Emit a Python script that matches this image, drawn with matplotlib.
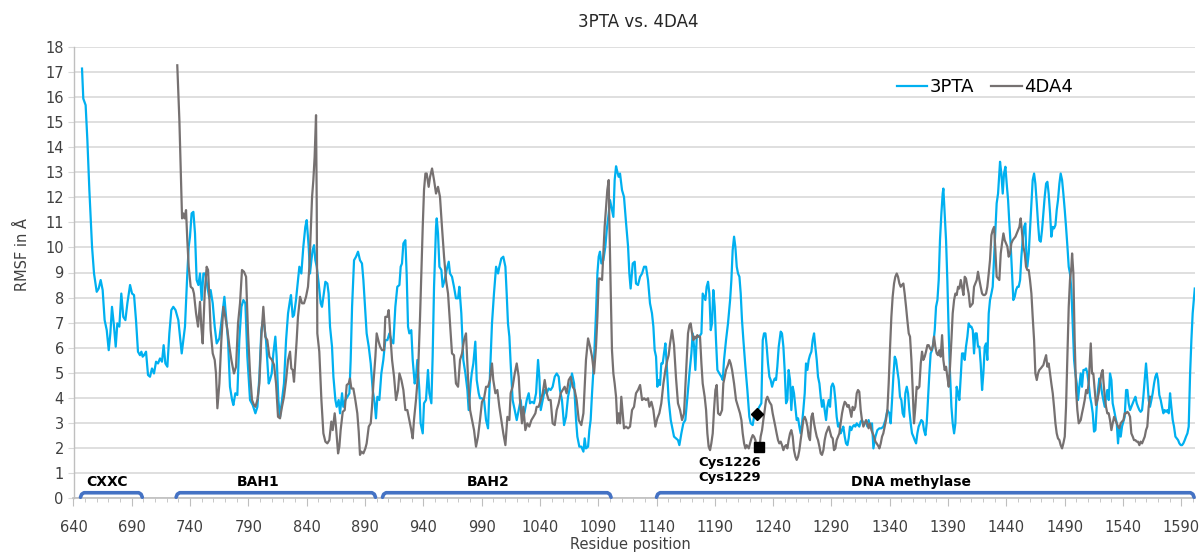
import matplotlib
matplotlib.use('Agg')
import matplotlib.pyplot as plt
from matplotlib.ticker import MultipleLocator
from matplotlib.lines import Line2D

plt.rcParams['font.family'] = ['DejaVu Sans']

# ---- data (residue, RMSF in A) ----
res_3pta = [
    647.3, 648.4, 650.4, 651.9, 653.6, 655.9, 657.6, 659.9, 661.6, 663.3,
    665.0, 666.7, 668.5, 670.2, 671.6, 673.0, 674.5, 676.2, 677.6, 679.3,
    681.0, 682.7, 684.5, 686.2, 688.5, 690.2, 691.9, 693.6, 695.3, 697.0,
    698.2, 699.3, 700.5, 702.2, 703.9, 705.6, 707.3, 709.0, 710.8, 712.5,
    714.2, 715.9, 717.3, 718.8, 720.5, 722.2,
    723.9, 725.6, 727.5, 729.9, 731.4, 732.8, 735.6, 737.6, 738.8, 739.9,
    741.3, 742.8, 744.2, 745.6, 747.1, 748.5, 749.9, 751.4, 753.1, 754.8,
    756.5, 757.6, 759.4, 761.1, 762.8, 765.1, 767.4, 769.4, 770.8, 772.5,
    774.2, 776.0, 777.1, 778.8, 780.5, 782.2, 784.0, 785.7, 787.4, 789.1,
    791.4, 793.7, 796.0, 797.7, 799.4, 801.1, 802.8, 805.1, 807.4,
    808.5, 810.0, 811.4, 813.1, 814.2, 815.7, 817.1, 818.8, 820.5, 822.3,
    824.0, 825.7, 826.5, 828.0, 829.1, 830.8, 832.5, 833.7, 835.4, 837.1,
    838.8, 840.0, 841.7, 842.8, 844.0, 845.1, 846.3, 847.4, 848.6, 850.3,
    852.0, 853.1, 854.3, 856.0, 857.7, 858.8, 860.0, 861.7, 862.9, 864.6,
    865.7, 867.4, 868.6, 870.3, 871.4, 873.1, 874.9, 876.6, 877.7, 878.9,
    880.6, 882.3, 884.0, 885.7, 887.4, 888.6, 890.3, 891.4, 893.2, 894.9,
    896.6, 898.3, 899.4, 900.6, 902.3,
    904.0, 905.7, 907.4, 909.2, 910.9, 912.6, 914.3, 916.0, 917.7, 919.5,
    920.6, 921.7, 922.9, 924.6, 925.7, 926.9, 928.0, 929.7, 930.9, 932.6,
    933.7, 934.9, 936.6, 937.7, 939.5, 940.6, 942.3, 944.0, 945.2, 946.9,
    948.0, 949.2, 950.9, 951.5, 952.6, 953.8, 955.5, 956.6, 958.3, 960.0,
    961.8, 962.9, 964.6, 966.3, 968.0, 969.8, 970.9, 972.6, 974.3, 976.1,
    977.8, 978.9, 980.6,
    981.5, 982.9, 984.6, 985.8, 987.5, 988.6, 990.3, 992.1, 993.8, 995.5,
    997.2, 998.9, 1000.6, 1002.4, 1004.1, 1005.2, 1006.9, 1008.6, 1010.4, 1011.5,
    1012.6, 1013.8, 1014.9, 1016.6, 1018.4, 1020.1, 1021.8, 1023.5, 1025.2, 1026.9,
    1028.7, 1030.4, 1031.5, 1033.2, 1034.9, 1036.7, 1038.4, 1039.5, 1040.7, 1042.4,
    1044.1, 1045.8, 1047.5, 1049.2, 1050.9, 1052.7, 1054.4, 1056.1, 1057.2, 1058.9,
    1060.7, 1062.4, 1064.1, 1065.8, 1067.5, 1069.3, 1071.0, 1072.1, 1073.8,
    1075.5, 1077.3, 1078.4, 1079.5, 1081.3, 1082.4, 1083.5, 1084.7, 1086.4, 1088.1,
    1089.3, 1090.4, 1091.5, 1092.7, 1094.4, 1096.1, 1097.3, 1099.0, 1100.1, 1101.3,
    1103.0, 1104.1, 1105.3, 1106.4, 1107.5, 1108.7, 1110.4, 1112.1, 1113.8, 1115.6,
    1116.7, 1117.8, 1119.6, 1121.3, 1122.4, 1124.1, 1125.9, 1127.6, 1129.3, 1131.0,
    1132.7, 1134.4, 1136.1, 1137.3, 1138.4, 1139.6, 1140.7, 1141.9, 1143.0, 1144.1,
    1145.3, 1146.4, 1147.6, 1148.7, 1150.4,
    1152.2, 1153.3, 1155.0, 1156.7, 1158.4, 1159.6, 1161.3, 1163.0, 1164.7, 1166.5,
    1168.2, 1169.9, 1171.0, 1172.2, 1173.3, 1174.5, 1175.6, 1176.7, 1178.5, 1179.6,
    1180.7, 1181.9, 1183.0, 1184.2, 1185.3, 1186.5, 1187.6, 1188.7, 1189.9, 1191.0,
    1192.2, 1193.9, 1195.6, 1196.8, 1197.9, 1199.6, 1201.3, 1203.1, 1204.2, 1205.3,
    1206.5, 1207.6, 1208.8, 1209.9, 1211.1, 1212.2, 1213.3, 1214.5, 1216.2, 1217.9,
    1219.6, 1220.8, 1222.5, 1223.6, 1224.8, 1226.5, 1228.2, 1229.9, 1231.1, 1232.2,
    1233.4, 1234.5, 1235.6, 1236.8,
    1237.9, 1239.1, 1240.2, 1241.4, 1242.5, 1243.6, 1244.8, 1246.5, 1247.6, 1248.8,
    1249.9, 1251.1, 1252.2, 1253.3, 1254.5, 1255.6, 1256.8, 1257.9, 1259.1, 1260.2,
    1261.4, 1262.5, 1263.6, 1264.8, 1265.9, 1267.1, 1268.2, 1269.4, 1270.5, 1271.6,
    1272.8, 1273.9, 1275.1, 1276.2, 1277.4, 1278.5, 1279.7, 1280.8, 1281.9, 1283.1,
    1284.2, 1285.4, 1286.5, 1287.7, 1288.8, 1289.9, 1291.1, 1292.2, 1293.4, 1294.5,
    1295.7, 1296.8, 1297.9, 1299.1, 1300.2, 1301.4, 1302.5, 1303.7, 1304.8, 1305.9,
    1307.1, 1308.2, 1309.4, 1310.5, 1311.7, 1312.8, 1313.9, 1315.1, 1316.2, 1317.4,
    1318.5, 1319.7, 1320.8, 1321.9, 1323.1,
    1324.8, 1326.0, 1327.7, 1329.4, 1331.1, 1332.8, 1334.5, 1336.3, 1338.0, 1339.7,
    1340.8, 1342.0, 1343.1, 1344.3, 1345.4, 1346.5, 1347.7, 1348.8, 1350.0, 1351.1,
    1352.3, 1353.4, 1354.6, 1355.7, 1356.8, 1358.0, 1359.1, 1360.3, 1361.4, 1362.6,
    1363.7, 1364.8, 1366.0, 1367.1, 1368.3, 1369.4, 1370.6, 1371.7, 1372.8, 1374.0,
    1375.1, 1376.3, 1377.4, 1378.6, 1379.7, 1380.9, 1382.0, 1383.1, 1384.3, 1385.4,
    1386.0, 1387.1, 1388.3, 1389.4, 1390.6, 1391.7, 1392.9, 1394.0, 1395.2, 1396.3,
    1397.4, 1398.6, 1399.7, 1400.9, 1402.0, 1403.2, 1404.3, 1405.4, 1406.6, 1407.7,
    1408.9, 1410.0, 1411.2, 1412.3, 1413.4, 1414.6, 1415.7, 1416.9, 1418.0, 1419.2,
    1420.3, 1421.5, 1422.6, 1423.7, 1424.9, 1426.0, 1427.2, 1428.3, 1429.5, 1430.6,
    1431.7, 1432.9, 1434.0, 1434.6, 1435.7, 1436.9, 1438.0, 1439.2, 1440.3, 1441.5,
    1442.6, 1443.8, 1444.9, 1446.0, 1447.2, 1448.3, 1449.5, 1450.6, 1451.8, 1452.9,
    1454.0, 1455.2, 1456.3, 1456.9, 1458.0, 1459.2, 1460.3, 1461.5, 1462.6, 1463.8,
    1464.9, 1466.1, 1467.2, 1468.3, 1469.5, 1470.6, 1471.8, 1472.9, 1474.1, 1475.2,
    1476.3, 1477.5, 1478.6, 1479.8, 1480.9, 1482.1, 1483.2, 1484.3, 1485.5, 1486.6,
    1487.8, 1488.9, 1490.1, 1491.2, 1492.4, 1493.5, 1494.6, 1495.8, 1496.9,
    1498.1, 1499.2, 1500.4, 1501.5, 1502.6, 1503.8, 1504.9, 1506.1, 1507.2, 1508.4,
    1509.5, 1510.6, 1511.8, 1512.9, 1514.1, 1515.2, 1516.4, 1517.5, 1518.6, 1519.8,
    1520.9, 1522.1, 1523.2, 1524.4, 1525.5, 1526.6, 1527.8, 1528.9, 1530.1, 1531.2,
    1532.4, 1533.5, 1534.7, 1535.8, 1536.9, 1538.1, 1539.2, 1540.4, 1541.5, 1542.7,
    1543.8, 1544.9, 1546.1, 1547.2, 1548.4, 1549.5, 1550.7, 1551.8, 1552.9, 1554.1,
    1555.2, 1556.4, 1557.5, 1558.7, 1559.8, 1560.9, 1562.1, 1563.2, 1564.4, 1565.5,
    1566.7, 1567.8, 1569.0, 1570.1, 1571.2, 1572.4, 1573.5, 1574.7, 1575.8, 1577.0,
    1578.1, 1579.3, 1580.4, 1581.5, 1582.7, 1583.8, 1585.0, 1586.1, 1587.3, 1588.4,
    1589.6, 1590.7, 1591.8, 1593.0, 1594.1, 1595.3, 1596.4, 1597.6, 1598.7, 1599.8,
    1601.6,
]
rmsf_3pta = [
    17.14, 15.94, 15.68, 14.28, 12.29, 10.03, 8.96, 8.23, 8.36, 8.70,
    8.30, 7.10, 6.70, 5.90, 6.57, 7.63, 6.97, 6.04, 6.97, 6.84,
    8.16, 7.23, 7.10, 7.77, 8.50, 8.16, 8.10, 7.10, 5.84, 5.70,
    5.84, 5.64, 5.70, 5.84, 4.91, 4.84, 5.17, 4.97, 5.44, 5.37,
    5.57, 5.44, 6.10, 5.37, 5.24, 6.57,
    7.50, 7.63, 7.50, 7.10, 6.40, 5.77, 6.84, 8.96, 10.03, 10.43,
    11.36, 11.42, 10.56, 8.70, 8.50, 8.96, 7.90, 8.96, 8.96, 8.43,
    7.97, 8.30, 7.77, 6.84, 6.17, 6.37, 7.23, 8.03, 7.23, 6.30,
    4.44, 3.91, 3.71, 4.18, 4.11, 6.30, 7.63, 7.90, 7.77, 5.64,
    3.91, 3.71, 3.38, 3.64, 4.84, 6.70, 7.17, 6.30, 4.57,
    4.71, 4.97, 5.77, 6.44, 5.64, 3.91, 3.24, 3.91, 4.57, 6.30,
    7.37, 7.90, 8.10, 7.23, 7.30, 7.90, 8.70, 9.23, 8.96, 10.03,
    10.82, 11.09, 10.03, 8.96, 9.49, 9.89, 10.09, 9.49, 9.23, 8.56,
    7.77, 7.63, 8.03, 8.63, 8.56, 8.16, 6.84, 6.04, 4.84, 3.91,
    3.64, 3.91, 3.38, 4.18, 3.64, 3.91, 4.04, 4.18, 5.51, 7.63,
    9.49, 9.63, 9.83, 9.49, 9.36, 8.70, 7.37, 6.57, 6.04, 5.37,
    4.31, 3.78, 3.18, 4.04, 3.91,
    4.97, 5.51, 6.30, 6.30, 6.57, 6.30, 6.17, 7.63, 8.43, 8.50,
    9.23, 9.36, 10.16, 10.29, 8.96, 6.84, 6.57, 6.70, 5.51, 4.57,
    4.84, 5.51, 4.31, 2.98, 2.58, 3.78, 3.91, 5.11, 4.18, 3.78,
    5.64, 8.43, 10.82, 11.16, 10.56, 9.23, 9.10, 8.43, 8.70, 9.10,
    9.43, 8.96, 8.83, 8.43, 7.97, 7.97, 8.43, 7.37, 5.51, 4.97,
    4.31, 3.51, 4.57,
    4.97, 5.37, 6.24, 4.71, 4.18, 3.98, 3.98, 3.91, 3.11, 2.78,
    4.97, 6.97, 8.16, 9.23, 8.96, 9.23, 9.56, 9.63, 9.23, 8.16,
    6.97, 6.44, 5.37, 3.91, 3.51, 3.11, 3.51, 3.91, 3.11, 3.44,
    3.91, 4.18, 3.78, 3.84, 3.78, 4.18, 5.51, 4.84, 3.51, 3.91,
    4.31, 4.18, 4.37, 4.31, 4.44, 4.84, 4.97, 4.84, 4.31, 3.91,
    2.91, 3.24, 4.04, 4.44, 4.97, 4.57, 3.11, 2.45, 2.05,
    2.05, 1.85, 2.38, 1.98, 2.05, 2.71, 3.11, 4.18, 5.51, 7.37,
    8.96, 9.63, 9.83, 9.36, 9.49, 10.03, 10.69, 11.36, 11.89, 11.62,
    11.22, 12.69, 13.24, 13.02, 12.82, 12.95, 12.29, 12.02, 11.02, 10.03,
    8.96, 8.36, 9.36, 9.43, 8.56, 8.50, 8.83, 8.96, 9.23, 9.23,
    8.70, 7.77, 7.37, 6.84, 5.90, 5.64, 4.44, 4.71, 4.51, 5.37,
    5.37, 5.77, 6.17, 5.37, 3.91,
    3.11, 2.85, 2.45, 2.38, 2.31, 2.11, 2.58, 2.98, 3.11, 4.04,
    4.97, 5.77, 6.57, 6.04, 5.11, 6.44, 6.44, 6.44, 6.57, 8.16,
    8.03, 7.90, 8.43, 8.63, 8.16, 6.70, 6.97, 8.30, 7.63, 6.30,
    5.11, 4.97, 4.84, 4.71, 5.51, 6.30, 6.97, 7.90, 8.70, 9.89,
    10.43, 10.03, 9.23, 8.96, 8.83, 8.16, 7.10, 6.30, 5.24, 4.31,
    3.24, 2.98, 2.91, 3.24, 3.24, 3.51, 3.64, 3.78, 6.30, 6.57,
    6.57, 6.04, 5.37, 4.84,
    4.71, 4.44, 4.64, 4.77, 4.71, 5.24, 6.04, 6.64, 6.57, 6.04,
    5.11, 3.78, 3.91, 5.11, 4.71, 3.51, 4.44, 4.18, 3.64, 3.11,
    3.18, 2.85, 2.58, 2.98, 3.51, 4.18, 5.37, 5.11, 5.51, 5.70,
    5.84, 6.30, 6.57, 6.04, 5.51, 4.84, 4.57, 4.04, 3.64, 3.91,
    3.51, 3.11, 3.64, 3.91, 3.64, 4.44, 4.57, 4.44, 3.91, 3.24,
    2.85, 2.98, 2.58, 2.71, 2.85, 2.45, 2.18, 2.11, 2.38, 2.85,
    2.71, 2.85, 2.91, 2.85, 2.98, 2.91, 2.85, 3.05, 3.11, 2.98,
    2.98, 3.05, 2.85, 3.11, 2.85,
    2.98, 1.98, 2.45, 2.71, 2.78, 2.78, 2.85, 3.11, 3.51, 3.38,
    2.98, 3.91, 4.84, 5.64, 5.51, 5.11, 4.71, 4.04, 3.91, 3.38,
    3.24, 4.18, 4.44, 4.18, 3.51, 2.98, 2.58, 2.45, 2.31, 2.18,
    2.58, 2.85, 2.98, 3.11, 3.05, 2.71, 2.51, 2.98, 3.91, 4.97,
    5.77, 5.90, 6.17, 6.70, 7.63, 7.90, 8.70, 10.29, 11.36, 12.15,
    12.35, 11.36, 10.29, 8.70, 6.57, 4.97, 3.64, 2.98, 2.58, 2.98,
    4.44, 4.18, 3.91, 4.84, 5.77, 5.77, 5.51, 6.04, 6.44, 6.97,
    6.84, 6.84, 6.70, 5.77, 6.57, 6.57, 6.04, 6.04, 5.37, 4.31,
    4.97, 6.04, 6.17, 5.51, 7.37, 7.90, 8.16, 8.43, 9.63, 10.82,
    11.76, 12.15, 12.95, 13.42, 12.95, 12.15, 12.95, 13.22, 12.55, 11.89,
    10.96, 10.03, 8.96, 7.90, 8.03, 8.30, 8.43, 8.43, 8.70, 9.63,
    10.29, 10.82, 10.96, 10.03, 9.23, 9.76, 10.69, 11.76, 12.69, 12.95,
    12.55, 11.76, 10.96, 10.29, 10.23, 10.69, 11.36, 12.02, 12.55, 12.62,
    12.15, 11.36, 10.43, 10.82, 10.76, 10.89, 11.49, 11.89, 12.55, 12.95,
    12.69, 12.15, 11.49, 10.82, 10.03, 9.23, 8.96, 8.30, 6.97,
    5.51, 4.97, 4.57, 3.91, 4.44, 4.97, 4.44, 5.11, 5.11, 5.17,
    4.97, 4.57, 4.04, 3.78, 3.38, 2.65, 2.71, 3.64, 4.31, 4.77,
    4.57, 4.18, 3.91, 3.64, 4.04, 4.31, 3.91, 4.97, 4.71, 3.78,
    3.51, 3.24, 2.98, 2.18, 2.85, 2.45, 2.85, 3.05, 3.24, 4.31,
    4.31, 3.78, 3.51, 3.64, 3.78, 3.91, 4.04, 3.78, 3.64, 3.51,
    3.44, 3.51, 4.04, 4.71, 5.37, 4.71, 3.91, 3.64, 3.91, 4.18,
    4.57, 4.84, 4.97, 4.71, 4.11, 3.91, 3.64, 3.38, 3.51, 3.44,
    3.51, 3.38, 4.18, 3.64, 3.11, 2.85, 2.45, 2.38, 2.31, 2.18,
    2.11, 2.11, 2.18, 2.31, 2.45, 2.58, 2.85, 4.97, 6.30, 7.37,
    8.36,
]

res_4da4 = [
    729.0, 730.8, 731.9, 733.1, 734.2, 735.3, 736.5, 737.6, 738.8, 740.5,
    742.2, 743.3, 745.1, 746.8, 748.5, 749.6, 750.8, 752.5, 754.2, 755.4,
    756.5, 757.6, 759.4, 761.1, 762.2, 763.4, 765.1, 766.8, 768.5, 770.2,
    772.0, 773.7, 775.4, 777.6, 779.4, 781.1, 782.8, 784.5, 786.2, 788.0,
    789.7, 791.4, 793.1, 794.8, 796.0, 797.7, 799.4, 801.1, 802.8, 804.5,
    806.2, 808.0,
    810.2, 812.0, 813.7, 815.4, 817.1, 818.8, 820.5, 822.3, 824.0, 825.7,
    826.8, 828.0, 829.1, 830.3, 831.4, 832.5, 834.3, 836.0, 837.7, 839.4,
    841.1, 842.3, 843.4, 844.6, 845.7, 846.8, 848.0, 848.6, 849.1, 850.8,
    852.6, 854.3, 856.0, 857.7, 859.4, 861.1, 862.3, 864.0, 865.1, 866.9,
    868.0, 869.1, 870.9, 872.6, 874.3, 876.0, 877.1, 878.3, 880.0, 881.7,
    883.4, 884.6, 885.7, 886.9, 888.6, 890.3, 891.4, 893.2, 894.9, 896.0,
    897.2, 898.9, 900.0, 901.7, 902.9,
    904.6, 906.3, 907.4, 909.2, 910.3, 911.4, 913.2, 914.9, 916.6, 918.3,
    919.5, 921.2, 922.9, 924.6, 926.3, 928.0, 929.7, 930.9, 932.0, 933.7,
    935.5, 937.2, 938.3, 939.5, 940.6, 941.8, 942.9, 944.6, 945.8, 947.5,
    949.2, 950.9, 952.6, 954.3, 956.0, 957.8, 959.5, 961.2, 962.9, 964.6,
    966.3, 968.0, 969.8, 971.5, 973.2, 974.9, 976.6, 978.3, 980.1, 981.8,
    983.5, 985.2, 986.9, 988.6,
    990.3, 992.1, 993.8, 995.5, 997.2, 998.9, 1000.0, 1001.8, 1003.5, 1005.2,
    1006.9, 1008.6, 1010.4, 1012.1, 1013.8, 1014.9, 1016.6, 1018.4, 1020.1, 1021.8,
    1022.9, 1024.6, 1025.8, 1027.5, 1029.2, 1030.9, 1032.7, 1034.4, 1036.1, 1037.2,
    1038.9, 1040.7, 1042.4, 1044.1, 1045.8, 1047.5, 1049.2, 1050.9, 1052.7, 1054.4,
    1056.1, 1057.8, 1059.5, 1061.2, 1062.9, 1064.7, 1066.4, 1068.1, 1069.8, 1071.5,
    1073.3,
    1075.5, 1077.3, 1078.4, 1079.5, 1081.3, 1083.0, 1084.7, 1086.4, 1088.1, 1089.3,
    1090.4, 1091.5, 1093.3, 1094.4, 1095.5, 1096.7, 1097.8, 1099.0, 1099.5, 1100.7,
    1101.8, 1103.0, 1104.1, 1105.3, 1106.4, 1107.5, 1108.7, 1109.8, 1111.0, 1112.1,
    1113.8, 1115.6, 1117.3, 1119.0, 1120.7, 1122.4, 1124.1, 1125.9, 1127.6, 1129.3,
    1131.0, 1132.7, 1133.9, 1135.6, 1137.3, 1139.0, 1140.7, 1142.4, 1144.1, 1145.9,
    1147.6, 1149.3, 1150.4, 1151.6,
    1153.3, 1155.0, 1156.7, 1158.4, 1160.2, 1161.9, 1163.6, 1164.7, 1165.9, 1167.0,
    1168.2, 1169.3, 1170.5, 1171.6, 1172.8, 1173.9, 1175.0, 1176.2, 1177.3, 1178.5,
    1179.6, 1181.3, 1182.5, 1183.6, 1184.7, 1185.9, 1187.0, 1188.2, 1189.3, 1190.5,
    1191.6, 1192.8, 1194.5, 1196.2, 1197.3, 1198.5, 1199.6, 1201.3, 1202.5, 1203.6,
    1204.8, 1206.5, 1208.2, 1209.9, 1211.6, 1212.8, 1213.9, 1215.1, 1216.2, 1217.3,
    1219.1, 1220.2, 1221.4, 1222.5, 1223.6, 1224.8, 1225.9, 1227.1, 1228.2, 1229.3,
    1230.5, 1231.6, 1232.8, 1233.9, 1235.1, 1236.8,
    1238.5, 1239.6, 1240.8, 1241.9, 1243.0, 1244.2, 1245.3, 1246.5, 1247.6, 1248.8,
    1249.9, 1251.1, 1252.2, 1253.3, 1254.5, 1255.6, 1256.8, 1257.9, 1259.1, 1260.2,
    1261.4, 1262.5, 1263.6, 1264.8, 1265.9, 1267.1, 1268.2, 1269.4, 1270.5, 1271.6,
    1272.8, 1273.9, 1275.1, 1276.2, 1277.4, 1278.5, 1279.7, 1280.8, 1281.9, 1283.1,
    1284.2, 1285.4, 1286.5, 1287.7, 1288.8, 1289.9, 1291.1, 1292.2, 1293.4, 1294.5,
    1295.7, 1296.8, 1297.9, 1299.1, 1300.2, 1301.4, 1302.5, 1303.7, 1304.8, 1305.9,
    1307.1, 1308.2, 1309.4, 1310.5, 1311.7, 1312.8, 1313.9, 1315.1, 1316.2, 1317.4,
    1318.5, 1319.7, 1320.8, 1321.9, 1323.1, 1324.3, 1325.4, 1326.5, 1327.7, 1328.8,
    1330.5,
    1331.1, 1332.3, 1333.4, 1334.5, 1335.7, 1336.8, 1338.0, 1339.1, 1340.3, 1341.4,
    1342.5, 1343.7, 1344.8, 1346.0, 1347.1, 1348.3, 1349.4, 1350.5, 1351.7, 1352.8,
    1354.0, 1355.1, 1356.3, 1357.4, 1358.6, 1359.7, 1360.8, 1362.0, 1363.1, 1364.3,
    1365.4, 1366.6, 1367.7, 1368.8, 1370.0, 1371.1, 1372.3, 1373.4, 1374.6, 1375.7,
    1376.9, 1378.0, 1379.1, 1380.3, 1381.4, 1382.6, 1383.7, 1384.9, 1386.0, 1387.1,
    1388.3, 1389.4, 1390.6, 1391.7, 1392.9, 1394.0, 1395.2, 1396.3, 1397.4, 1398.6,
    1399.7, 1400.9, 1402.0, 1403.2, 1404.3, 1405.4, 1406.6, 1407.7,
    1408.9, 1410.0, 1411.2, 1412.3, 1413.4, 1414.6, 1415.7, 1416.9, 1418.0, 1419.2,
    1420.3, 1421.5, 1422.6, 1423.7, 1424.9, 1426.0, 1427.2, 1428.3, 1429.5, 1430.6,
    1431.7, 1432.9, 1434.0, 1435.2, 1436.3, 1437.5, 1438.6, 1439.8, 1440.9, 1442.0,
    1443.2, 1444.3, 1445.5, 1446.6, 1447.8, 1448.9, 1450.0, 1451.2, 1452.3, 1453.5,
    1454.6, 1455.8, 1456.9, 1458.0, 1459.2, 1460.3, 1461.5, 1462.6, 1463.8, 1464.9,
    1466.1, 1467.2, 1468.3, 1469.5, 1470.6, 1471.8, 1472.9, 1474.1, 1475.2, 1476.3,
    1477.5, 1478.6, 1479.8, 1480.9, 1482.1, 1483.2, 1484.3, 1485.5, 1486.6, 1487.8,
    1488.9, 1490.1, 1491.2, 1492.4, 1493.5, 1494.6, 1495.8, 1496.4, 1497.5, 1498.6,
    1499.8, 1500.9, 1502.1,
    1503.8, 1504.9, 1506.1, 1507.2, 1508.4, 1509.5, 1510.6, 1511.8, 1512.4, 1513.5,
    1514.6, 1515.8, 1516.9, 1518.1, 1519.2, 1520.4, 1521.5, 1522.6, 1523.2, 1524.4,
    1525.5, 1526.6, 1527.8, 1528.9, 1530.1, 1531.2, 1532.4, 1533.5, 1534.7, 1535.8,
    1536.9, 1538.1, 1539.2, 1540.4, 1541.5, 1542.7, 1543.8, 1544.9, 1546.1, 1547.2,
    1548.4, 1549.5, 1550.7, 1551.8, 1552.9, 1554.1, 1555.2, 1556.4, 1557.5, 1558.7,
    1559.8, 1560.9, 1562.1, 1563.2,
]
rmsf_4da4 = [
    17.27, 15.08, 13.22, 11.16, 11.36, 11.16, 11.49, 10.29, 9.23, 8.43,
    8.36, 8.16, 7.37, 6.84, 7.83, 6.84, 6.17, 8.16, 9.23, 9.10,
    8.03, 6.70, 5.77, 5.51, 4.97, 3.58, 4.57, 6.30, 7.63, 7.23,
    6.70, 6.04, 5.51, 4.97, 5.24, 6.97, 7.77, 9.10, 9.03, 8.83,
    6.57, 4.97, 3.91, 3.71, 3.64, 3.91, 4.57, 6.44, 7.63, 6.44,
    6.30, 5.64,
    5.51, 5.31, 4.57, 3.24, 3.18, 3.64, 4.04, 4.71, 5.51, 5.84,
    5.17, 5.11, 4.64, 5.51, 6.30, 7.23, 8.03, 7.77, 7.77, 8.03,
    8.43, 9.23, 10.56, 12.02, 12.69, 13.62, 15.28, 11.62, 6.57, 5.84,
    3.91, 2.58, 2.25, 2.18, 2.31, 3.05, 2.71, 3.38, 2.85, 1.78,
    2.05, 2.71, 3.44, 3.51, 4.51, 4.57, 4.77, 4.37, 4.37, 3.91,
    3.38, 2.65, 1.72, 1.85, 1.78, 1.98, 2.18, 2.85, 2.98, 3.64,
    4.57, 5.64, 6.57, 6.24, 6.04,
    5.90, 5.90, 7.23, 7.23, 7.50, 6.70, 5.51, 4.84, 3.91, 4.31,
    4.97, 4.71, 4.31, 3.51, 3.51, 3.11, 2.71, 2.38, 3.11, 3.91,
    4.97, 7.23, 8.96, 10.82, 12.29, 12.95, 12.95, 12.42, 12.82, 13.15,
    12.69, 12.15, 12.42, 12.02, 10.82, 9.63, 8.70, 8.16, 6.97, 5.77,
    5.70, 4.57, 4.44, 5.51, 5.77, 6.30, 6.57, 4.84, 3.51, 3.11,
    2.71, 2.05, 2.45, 3.11,
    3.84, 3.98, 4.44, 4.44, 4.71, 5.37, 4.71, 4.18, 4.31, 3.64,
    3.11, 2.58, 2.11, 3.24, 3.11, 4.18, 4.44, 4.97, 5.37, 4.84,
    3.91, 2.98, 3.64, 2.71, 2.98, 2.85, 3.11, 3.24, 3.38, 3.64,
    3.64, 3.91, 4.18, 4.71, 4.18, 3.91, 3.91, 2.98, 2.91, 3.51,
    3.78, 4.18, 4.31, 4.44, 4.18, 4.71, 4.84, 4.44, 4.31, 3.91,
    3.11,
    2.91, 3.38, 4.44, 5.51, 6.37, 6.04, 5.64, 4.97, 6.04, 7.23,
    8.76, 8.76, 8.70, 9.76, 10.82, 11.62, 12.29, 12.69, 11.22, 8.30,
    5.90, 4.97, 4.57, 4.04, 2.98, 3.38, 2.98, 4.04, 3.38, 2.78,
    2.85, 2.78, 2.85, 3.51, 3.64, 4.18, 4.31, 4.51, 3.91, 3.98,
    3.91, 3.98, 3.64, 3.84, 3.51, 2.85, 3.18, 3.38, 3.78, 4.57,
    5.11, 5.51, 5.70, 6.17,
    6.70, 6.10, 4.80, 3.78, 3.51, 3.11, 3.38, 4.44, 5.51, 6.57,
    6.90, 6.97, 6.57, 6.30, 6.44, 6.37, 6.50, 6.44, 6.44, 5.37,
    4.57, 4.04, 3.51, 2.58, 2.05, 1.91, 2.18, 2.58, 3.51, 4.31,
    4.51, 3.38, 3.31, 3.51, 4.57, 4.84, 5.11, 5.31, 5.51, 5.37,
    5.11, 4.57, 3.91, 3.64, 3.38, 3.11, 2.58, 2.18, 1.98, 2.11,
    1.98, 2.18, 2.38, 2.51, 2.45, 2.31, 1.91, 2.05, 1.98, 2.45,
    2.71, 3.11, 3.51, 3.91, 4.04, 3.84,
    3.71, 3.38, 3.11, 2.85, 2.58, 2.31, 2.18, 2.25, 2.11, 1.91,
    2.05, 2.11, 1.98, 2.31, 2.58, 2.71, 2.45, 1.91, 1.65, 1.52,
    1.65, 1.91, 2.31, 2.71, 3.11, 3.24, 3.11, 2.85, 2.45, 2.31,
    3.24, 3.38, 2.98, 2.71, 2.45, 2.31, 2.05, 1.78, 1.72, 1.91,
    2.31, 2.58, 2.71, 2.85, 2.65, 2.45, 2.38, 1.91, 1.98, 2.31,
    2.45, 2.58, 2.98, 3.38, 3.64, 3.84, 3.78, 3.64, 3.71, 3.51,
    3.24, 3.64, 3.51, 3.64, 4.18, 4.31, 4.24, 3.51, 3.11, 2.85,
    2.98, 3.11, 2.98, 2.78, 2.98, 2.71, 2.58, 2.45, 2.25, 2.18,
    2.05,
    1.98, 2.18, 2.45, 2.58, 2.85, 3.11, 3.51, 4.57, 6.04, 7.23,
    8.03, 8.56, 8.83, 8.96, 8.83, 8.56, 8.43, 8.50, 8.56, 8.16,
    7.63, 7.10, 6.57, 6.44, 5.51, 4.31, 2.98, 3.64, 4.44, 4.37,
    4.44, 5.37, 5.84, 5.51, 5.64, 5.84, 6.10, 6.10, 5.97, 5.90,
    6.04, 6.44, 6.04, 5.77, 5.70, 5.90, 5.64, 6.50, 5.51, 5.11,
    5.24, 4.84, 4.44, 5.24, 6.30, 7.37, 7.90, 8.16, 8.10, 8.43,
    8.36, 8.70, 8.43, 8.10, 8.83, 8.76, 8.43, 8.16,
    7.63, 7.70, 7.77, 8.43, 8.56, 8.70, 9.03, 8.70, 8.43, 8.16,
    8.10, 8.10, 8.16, 8.43, 8.96, 9.49, 10.49, 10.69, 10.82, 9.89,
    8.83, 8.76, 8.70, 9.76, 10.16, 10.56, 10.29, 10.16, 10.03, 9.63,
    9.76, 10.16, 10.29, 10.36, 10.43, 10.56, 10.69, 10.82, 11.16, 10.56,
    10.03, 9.76, 9.23, 9.10, 9.10, 8.70, 8.16, 7.23, 6.30, 4.97,
    4.71, 4.97, 5.11, 5.17, 5.24, 5.31, 5.51, 5.70, 5.24, 5.37,
    4.97, 4.57, 4.18, 3.64, 2.98, 2.58, 2.38, 2.31, 2.11, 1.98,
    2.18, 2.45, 3.64, 5.64, 7.63, 8.70, 9.23, 9.76, 8.96, 6.30,
    4.31, 3.51, 2.98,
    3.11, 3.38, 3.64, 3.91, 4.31, 4.18, 4.57, 5.64, 6.17, 4.97,
    4.97, 4.31, 3.71, 3.91, 4.18, 4.57, 4.97, 5.11, 4.71, 4.04,
    3.64, 3.38, 3.38, 3.11, 2.71, 2.98, 3.24, 3.11, 2.98, 2.85,
    2.78, 2.98, 3.05, 3.11, 3.38, 3.38, 3.44, 3.38, 3.24, 2.58,
    2.45, 2.31, 2.31, 2.25, 2.25, 2.11, 2.25, 2.18, 2.31, 2.45,
    2.71, 2.85, 3.64, 4.04,
]

# marked cysteines
cys_names = ['Cys1226', 'Cys1229']
cys_res = [1226, 1227.5]
cys_rmsf = [3.35, 2.05]
cys_markers = ['D', 's']

# protein domains (residue ranges)
domain_names = ['CXXC', 'BAH1', 'BAH2', 'DNA methylase']
domain_start = [646, 728, 905, 1140]
domain_end = [699, 899, 1101, 1601]

BLUE = '#00B0F0'
GRAY = '#767171'
DOMAIN_BLUE = '#4472C4'
GRID = '#D9D9D9'

fig = plt.figure(figsize=(12.04, 5.53), dpi=100)
ax = fig.add_axes([73.5 / 1204, 1 - 498 / 553, (1195 - 73.5) / 1204, (498 - 47) / 553])

ax.plot(res_3pta, rmsf_3pta, color=BLUE, lw=1.6, label='3PTA', zorder=3)
ax.plot(res_4da4, rmsf_4da4, color=GRAY, lw=1.6, label='4DA4', zorder=3)

for x, y, m in zip(cys_res, cys_rmsf, cys_markers):
    ax.plot([x], [y], marker=m, color='black', ms=6 if m == 'D' else 7,
            ls='none', zorder=4)
ax.text(1203, 1.42, cys_names[0], ha='center', va='center',
        fontsize=9.5, fontweight='bold')
ax.text(1203, 0.80, cys_names[1], ha='center', va='center',
        fontsize=9.5, fontweight='bold')

# domain brackets along the bottom
label_x = [669, 798, 996, 1358]
for name, x0, x1, lx in zip(domain_names, domain_start, domain_end, label_x):
    xs = [x0, x0 + 1.0, x0 + 3.0, x1 - 3.0, x1 - 1.0, x1]
    ys = [0.03, 0.15, 0.21, 0.21, 0.15, 0.03]
    ax.plot(xs, ys, color=DOMAIN_BLUE, lw=2.6, solid_capstyle='round',
            solid_joinstyle='round', clip_on=False, zorder=5)
    ax.text(lx, 0.62, name, ha='center', va='center', fontsize=10,
            fontweight='bold')

# axes
ax.set_xlim(640, 1601.8)
ax.set_ylim(0, 18)
ax.xaxis.set_major_locator(MultipleLocator(50))
ax.xaxis.set_minor_locator(MultipleLocator(10))
ax.yaxis.set_major_locator(MultipleLocator(1))
ax.set_xticks(range(640, 1600, 50))
ax.grid(axis='y', color=GRID, lw=1.2, zorder=0)
ax.set_axisbelow(True)
for s in ['top', 'right']:
    ax.spines[s].set_visible(False)
ax.spines['left'].set_color('#BFBFBF')
ax.spines['bottom'].set_color('#BFBFBF')
ax.spines['left'].set_linewidth(1.0)
ax.spines['bottom'].set_linewidth(1.2)
ax.tick_params(axis='x', which='major', length=6, color='#BFBFBF',
               labelsize=10.5, labelcolor='#404040', pad=10)
ax.tick_params(axis='x', which='minor', length=3, color='#BFBFBF')
ax.tick_params(axis='y', which='major', length=4, color=GRID,
               labelsize=10.5, labelcolor='#404040', pad=3)

fig.text(630 / 1204, 1 - 545 / 553, 'Residue position', ha='center',
         va='center', fontsize=10.5, color='#404040')
fig.text(22 / 1204, 1 - 255 / 553, 'RMSF in Å', ha='center', va='center',
         rotation=90, fontsize=10.5, color='#404040')
fig.text(638 / 1204, 1 - 22 / 553, '3PTA vs. 4DA4', ha='center',
         va='center', fontsize=12, color='#262626')

handles = [Line2D([], [], color=BLUE, lw=1.6),
           Line2D([], [], color=GRAY, lw=1.6)]
fig.legend(handles, ['3PTA', '4DA4'], loc='center',
           bbox_to_anchor=(985 / 1204, 1 - 87 / 553), ncol=2, frameon=False,
           fontsize=13, handlelength=1.7, handletextpad=0.15,
           columnspacing=0.9)

fig.savefig('out.png', dpi=100)
